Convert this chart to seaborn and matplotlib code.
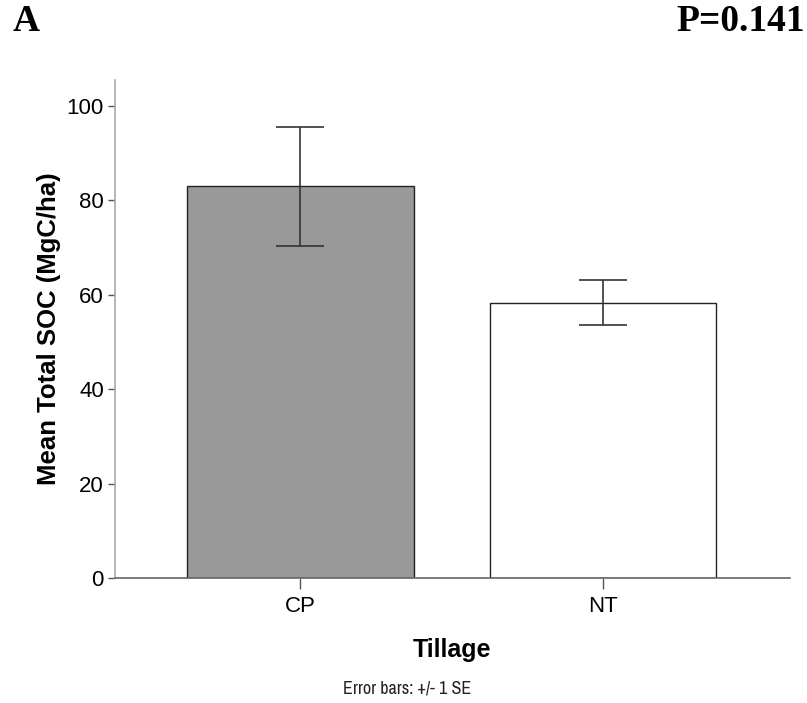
import matplotlib
matplotlib.use("Agg")
import matplotlib.pyplot as plt
from matplotlib import font_manager
import seaborn as sns
import pandas as pd

# data
tillage = ["CP", "NT"]
mean_soc = [83.0, 58.3]
se_soc = [12.6, 4.8]
bar_colors = ["#999999", "#ffffff"]

df = pd.DataFrame({"Tillage": tillage, "SOC": mean_soc})

sns.set_style("white")
plt.rcParams["font.family"] = ["Liberation Sans", "DejaVu Sans"]
plt.rcParams["text.color"] = "black"
plt.rcParams["axes.labelcolor"] = "black"

fig = plt.figure(figsize=(8.07, 7.03), dpi=100)
ax = fig.add_axes([0.1425, 0.1778, 0.8364, 0.7084])

sns.barplot(data=df, x="Tillage", y="SOC", hue="Tillage", palette=bar_colors,
            width=0.75, edgecolor="#222222", linewidth=1.0, errorbar=None,
            legend=False, ax=ax)

# +/- 1 SE error bars
ax.errorbar(range(len(tillage)), mean_soc, yerr=se_soc, fmt="none",
            ecolor="#333333", elinewidth=1.2, capsize=17, capthick=1.2)

ax.set_xlim(-0.613, 1.618)
ax.set_ylim(0, 105.5)
ax.set_yticks([0, 20, 40, 60, 80, 100])

for s in ["top", "right"]:
    ax.spines[s].set_visible(False)
ax.spines["left"].set_color("#aaaaaa")
ax.spines["bottom"].set_color("#666666")
ax.spines["left"].set_linewidth(1.2)
ax.spines["bottom"].set_linewidth(1.2)

ax.tick_params(axis="both", which="both", direction="out", width=1,
               color="#555555", labelsize=16, labelcolor="black",
               left=True, bottom=True)
ax.tick_params(axis="y", length=5, pad=3)
ax.tick_params(axis="x", length=8, pad=5)

ax.set_ylabel("Mean Total SOC (MgC/ha)", fontsize=18.5, fontweight="bold", labelpad=4)
ax.set_xlabel("Tillage", fontsize=18, fontweight="bold", labelpad=15)

fig.text(0.016, 0.969, "A", fontsize=27, fontweight="bold",
         family="Liberation Serif", ha="left", va="center")
fig.text(0.998, 0.969, "P=0.141", fontsize=27, fontweight="bold",
         family="Liberation Serif", ha="right", va="center")

narrow = [f.name for f in font_manager.fontManager.ttflist if "Narrow" in f.name]
err_family = ([narrow[0]] if narrow else []) + ["Liberation Sans", "DejaVu Sans"]
fig.text(0.504, 0.021, "Error bars: +/- 1 SE", fontsize=13 if narrow else 11,
         color="#222222", family=err_family, ha="center", va="center")

plt.savefig("out.png", dpi=100)
